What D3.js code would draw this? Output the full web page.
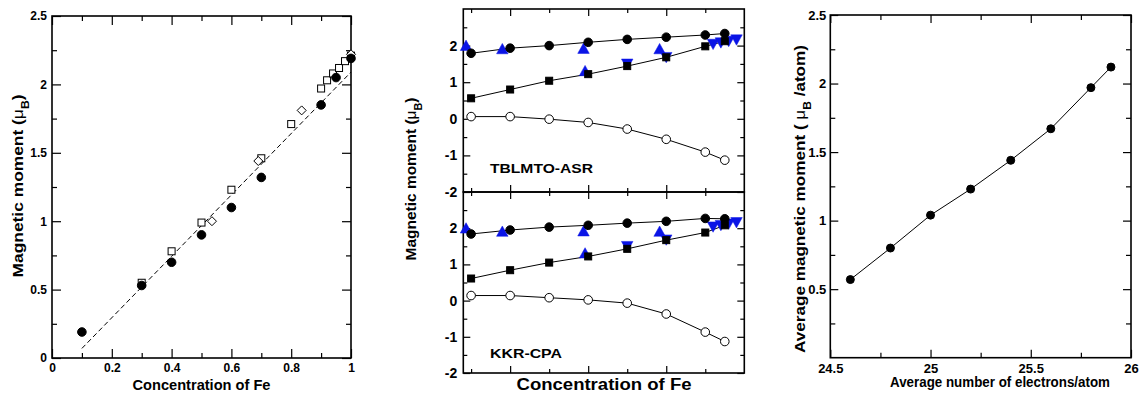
<!DOCTYPE html>
<html>
<head>
<meta charset="utf-8">
<script src="https://cdnjs.cloudflare.com/ajax/libs/d3/7.8.5/d3.min.js"></script>
<style>
  body { margin: 0; background: #fff; }
  svg text { font-family: "Liberation Sans", Arial, sans-serif; font-weight: bold; fill: #000; }
</style>
</head>
<body>
<div id="chart"></div>
<script>
// ---- data: left panel (moment vs Fe concentration) ----
var concCirc = [0.1, 0.3, 0.4, 0.5, 0.6, 0.7, 0.9, 0.95, 1.0];
var momCirc  = [0.19, 0.53, 0.70, 0.90, 1.10, 1.32, 1.85, 2.05, 2.19];
var concSq   = [0.3, 0.4, 0.5, 0.6, 0.7, 0.8, 0.9, 0.92, 0.94, 0.96, 0.98, 1.0];
var momSq    = [0.55, 0.78, 0.99, 1.23, 1.46, 1.71, 1.97, 2.03, 2.08, 2.12, 2.17, 2.21];
var concDia  = [0.535, 0.69, 0.835, 1.0];
var momDia   = [1.0, 1.44, 1.81, 2.22];
var fitConc  = [0.1, 1.0];
var fitMom   = [0.07, 2.09];

// ---- data: middle panel (site moments, two methods) ----
var calcConc = [0.3, 0.4, 0.5, 0.6, 0.7, 0.8, 0.9, 0.95];
var asrFe    = [1.79, 1.93, 2.00, 2.09, 2.17, 2.23, 2.29, 2.33];
var asrAvg   = [0.56, 0.80, 1.04, 1.22, 1.44, 1.68, 1.98, 2.12];
var asrOther = [0.06, 0.06, -0.01, -0.10, -0.28, -0.56, -0.91, -1.13];
var cpaFe    = [1.84, 1.95, 2.03, 2.08, 2.14, 2.19, 2.27, 2.26];
var cpaAvg   = [0.61, 0.84, 1.05, 1.22, 1.43, 1.67, 1.88, 2.08];
var cpaOther = [0.14, 0.14, 0.08, 0.02, -0.07, -0.37, -0.87, -1.13];
var expUpConc   = [0.287, 0.38, 0.588, 0.592, 0.783];
var expUpMom    = [1.98, 1.89, 1.90, 1.29, 1.89];
var expDownConc = [0.70, 0.80, 0.92, 0.94, 0.96, 0.98];
var expDownMom  = [1.52, 1.70, 2.06, 2.10, 2.14, 2.18];

// ---- data: right panel (average moment vs electrons) ----
var electrons = [24.6, 24.8, 25.0, 25.2, 25.4, 25.6, 25.8, 25.9];
var avgMom    = [0.57, 0.80, 1.04, 1.23, 1.44, 1.67, 1.97, 2.12];

// tick values
var ticksA_xMaj = [0, 0.2, 0.4, 0.6, 0.8, 1], ticksA_xMin = [0.1, 0.3, 0.5, 0.7, 0.9];
var ticksA_yMaj = [0, 0.5, 1, 1.5, 2, 2.5], ticksA_yMin = [0.25, 0.75, 1.25, 1.75, 2.25];
var ticksB_xMaj = [0.4, 0.6, 0.8], ticksB_xMin = [0.3, 0.5, 0.7, 0.9];
var ticksB_yMaj = [-2, -1, 0, 1, 2], ticksB_yMin = [-1.5, -0.5, 0.5, 1.5, 2.5];
var ticksC_xMaj = [24.5, 25, 25.5, 26], ticksC_xMin = [24.75, 25.25, 25.75];
var ticksC_yMaj = [0.5, 1, 1.5, 2, 2.5], ticksC_yMin = [0.25, 0.75, 1.25, 1.75, 2.25];

var width = 1143, height = 393;
var svg = d3.select("#chart").append("svg")
    .attr("width", width)
    .attr("height", height);

function zip(a, b) { return a.map(function(v, i) { return [v, b[i]]; }); }

// frame with inward ticks on all four sides
function frame(x, y, o) {
  var g = svg.append("g");
  var x0 = x.range()[0], x1 = x.range()[1], y0 = y.range()[0], y1 = y.range()[1];
  function put(axis, tx, ty, labels, fs) {
    var a = g.append("g").attr("transform", "translate(" + tx + "," + ty + ")").call(axis);
    a.select(".domain").remove();
    a.selectAll("line").attr("stroke", "#000").attr("stroke-width", 1.2);
    a.selectAll("text").style("font-size", fs + "px").attr("fill", "#000");
    if (!labels) a.selectAll("text").remove();
    return a;
  }
  var fmt = o.fmt || function(d) { return String(d); };
  // minor
  put(d3.axisBottom(x).tickValues(o.xMin).tickSize(-o.minLen), 0, y0, false);
  put(d3.axisTop(x).tickValues(o.xMin).tickSize(-o.minLen), 0, y1, false);
  put(d3.axisLeft(y).tickValues(o.yMin).tickSize(-o.minLen), x0, 0, false);
  put(d3.axisRight(y).tickValues(o.yMin).tickSize(-o.minLen), x1, 0, false);
  // major
  var bx = put(d3.axisBottom(x).tickValues(o.xMaj).tickSize(-o.majLen).tickPadding(o.xPad).tickFormat(fmt), 0, y0, o.xLabels, o.fs);
  put(d3.axisTop(x).tickValues(o.xMaj).tickSize(-o.majLen), 0, y1, false);
  var ly = put(d3.axisLeft(y).tickValues(o.yMaj).tickSize(-o.majLen).tickPadding(o.yPad).tickFormat(fmt), x0, 0, o.yLabels, o.fs);
  put(d3.axisRight(y).tickValues(o.yMaj).tickSize(-o.majLen), x1, 0, false);
  g.append("rect")
    .attr("x", x0).attr("y", y1)
    .attr("width", x1 - x0).attr("height", y0 - y1)
    .attr("fill", "none").attr("stroke", "#000").attr("stroke-width", 1.6);
  return { g: g, bx: bx, ly: ly };
}

function yTitle(cx, cy, len, fs, parts) {
  var t = svg.append("text")
    .attr("transform", "translate(" + cx + "," + cy + ") rotate(-90)")
    .attr("text-anchor", "middle")
    .style("font-size", fs + "px")
    .attr("textLength", len).attr("lengthAdjust", "spacingAndGlyphs");
  parts.forEach(function(p) {
    var s = t.append("tspan").text(p.t);
    if (p.sub) s.attr("baseline-shift", "sub").style("font-size", (fs * 0.7) + "px");
    if (p.mu) s.style("font-weight", "normal");
  });
}
function xTitle(cx, by, len, fs, txt) {
  svg.append("text")
    .attr("x", cx).attr("y", by)
    .attr("text-anchor", "middle")
    .style("font-size", fs + "px")
    .attr("textLength", len).attr("lengthAdjust", "spacingAndGlyphs")
    .text(txt);
}

function circles(x, y, pts, r, filled) {
  svg.append("g").selectAll("circle").data(pts).enter().append("circle")
    .attr("cx", function(d) { return x(d[0]); })
    .attr("cy", function(d) { return y(d[1]); })
    .attr("r", r)
    .attr("fill", filled ? "#000" : "#fff")
    .attr("stroke", "#000").attr("stroke-width", 1);
}
function squares(x, y, pts, s, filled) {
  svg.append("g").selectAll("rect").data(pts).enter().append("rect")
    .attr("x", function(d) { return x(d[0]) - s / 2; })
    .attr("y", function(d) { return y(d[1]) - s / 2; })
    .attr("width", s).attr("height", s)
    .attr("fill", filled ? "#000" : "#fff")
    .attr("stroke", "#000").attr("stroke-width", 1);
}
function diamonds(x, y, pts, s) {
  svg.append("g").selectAll("path").data(pts).enter().append("path")
    .attr("d", function(d) {
      var cx = x(d[0]), cy = y(d[1]);
      return "M" + cx + "," + (cy - s) + "L" + (cx + s) + "," + cy + "L" + cx + "," + (cy + s) + "L" + (cx - s) + "," + cy + "Z";
    })
    .attr("fill", "#fff").attr("stroke", "#000").attr("stroke-width", 1);
}
function triangles(x, y, pts, s, up) {
  svg.append("g").selectAll("path").data(pts).enter().append("path")
    .attr("d", function(d) {
      var cx = x(d[0]), cy = y(d[1]), h = s * 0.9, k = up ? 1 : -1;
      return "M" + cx + "," + (cy - k * h * 0.6) + "L" + (cx + s / 2) + "," + (cy + k * h * 0.4) +
             "L" + (cx - s / 2) + "," + (cy + k * h * 0.4) + "Z";
    })
    .attr("fill", "#0a14e6").attr("stroke", "#0a14e6").attr("stroke-width", 0.5);
}
function line(x, y, pts, dash) {
  svg.append("path").datum(pts)
    .attr("d", d3.line().x(function(d) { return x(d[0]); }).y(function(d) { return y(d[1]); }))
    .attr("fill", "none").attr("stroke", "#000").attr("stroke-width", 1)
    .attr("stroke-dasharray", dash || null);
}

// ================= Panel A =================
var xA = d3.scaleLinear().domain([0, 1]).range([52, 351]);
var yA = d3.scaleLinear().domain([0, 2.5]).range([358, 16]);
frame(xA, yA, { xMaj: ticksA_xMaj, xMin: ticksA_xMin, yMaj: ticksA_yMaj, yMin: ticksA_yMin,
  majLen: 9, minLen: 5, xPad: 5, yPad: 5, xLabels: true, yLabels: true, fs: 12 });
line(xA, yA, zip(fitConc, fitMom), "5,3");
squares(xA, yA, zip(concSq, momSq), 7, false);
diamonds(xA, yA, zip(concDia, momDia), 4.5);
circles(xA, yA, zip(concCirc, momCirc), 4.3, true);
yTitle(23, 186, 183, 15, [{ t: "Magnetic moment  (" }, { t: "μ", mu: true }, { t: "B", sub: true }, { t: ")" }]);
xTitle(201.5, 390, 138, 14, "Concentration of Fe");

// ================= Panel B =================
var xB = d3.scaleLinear().domain([0.28, 1.0]).range([463.3, 744.3]);
var yBt = d3.scaleLinear().domain([-2, 3]).range([192, 9]);
var yBb = d3.scaleLinear().domain([-2, 3]).range([373, 192]);
[yBt, yBb].forEach(function(yy) {
  frame(xB, yy, { xMaj: ticksB_xMaj, xMin: ticksB_xMin, yMaj: ticksB_yMaj, yMin: ticksB_yMin,
    majLen: 7, minLen: 4, xPad: 4, yPad: 6, xLabels: false, yLabels: true, fs: 14 });
});
[[yBt, asrFe, asrAvg, asrOther], [yBb, cpaFe, cpaAvg, cpaOther]].forEach(function(s) {
  var yy = s[0];
  line(xB, yy, zip(calcConc, s[1]));
  line(xB, yy, zip(calcConc, s[2]));
  line(xB, yy, zip(calcConc, s[3]));
  triangles(xB, yy, zip(expUpConc, expUpMom), 11.5, true);
  triangles(xB, yy, zip(expDownConc, expDownMom), 11.5, false);
  circles(xB, yy, zip(calcConc, s[1]), 4.3, true);
  squares(xB, yy, zip(calcConc, s[2]), 7, true);
  circles(xB, yy, zip(calcConc, s[3]), 4.3, false);
});
svg.append("text").attr("x", 490).attr("y", 173).style("font-size", "13px")
  .attr("textLength", 103).attr("lengthAdjust", "spacingAndGlyphs").text("TBLMTO-ASR");
svg.append("text").attr("x", 490).attr("y", 358).style("font-size", "13px")
  .attr("textLength", 72).attr("lengthAdjust", "spacingAndGlyphs").text("KKR-CPA");
yTitle(416, 179, 163, 15, [{ t: "Magnetic moment (" }, { t: "μ", mu: true }, { t: "B", sub: true }, { t: ")" }]);
xTitle(604, 389.5, 175, 16, "Concentration of Fe");

// ================= Panel C =================
var xC = d3.scaleLinear().domain([24.5, 26]).range([830.3, 1131]);
var yC = d3.scaleLinear().domain([0, 2.5]).range([357.7, 15]);
frame(xC, yC, { xMaj: ticksC_xMaj, xMin: ticksC_xMin, yMaj: ticksC_yMaj, yMin: ticksC_yMin,
  majLen: 8, minLen: 5, xPad: 6, yPad: 4, xLabels: true, yLabels: true, fs: 13 });
line(xC, yC, zip(electrons, avgMom));
circles(xC, yC, zip(electrons, avgMom), 4, true);
yTitle(805, 199, 308, 15, [{ t: "Average magnetic moment ( " }, { t: "μ", mu: true }, { t: "B", sub: true }, { t: " /atom)" }]);
xTitle(1000, 387, 220, 14, "Average number of electrons/atom");
</script>
</body>
</html>
